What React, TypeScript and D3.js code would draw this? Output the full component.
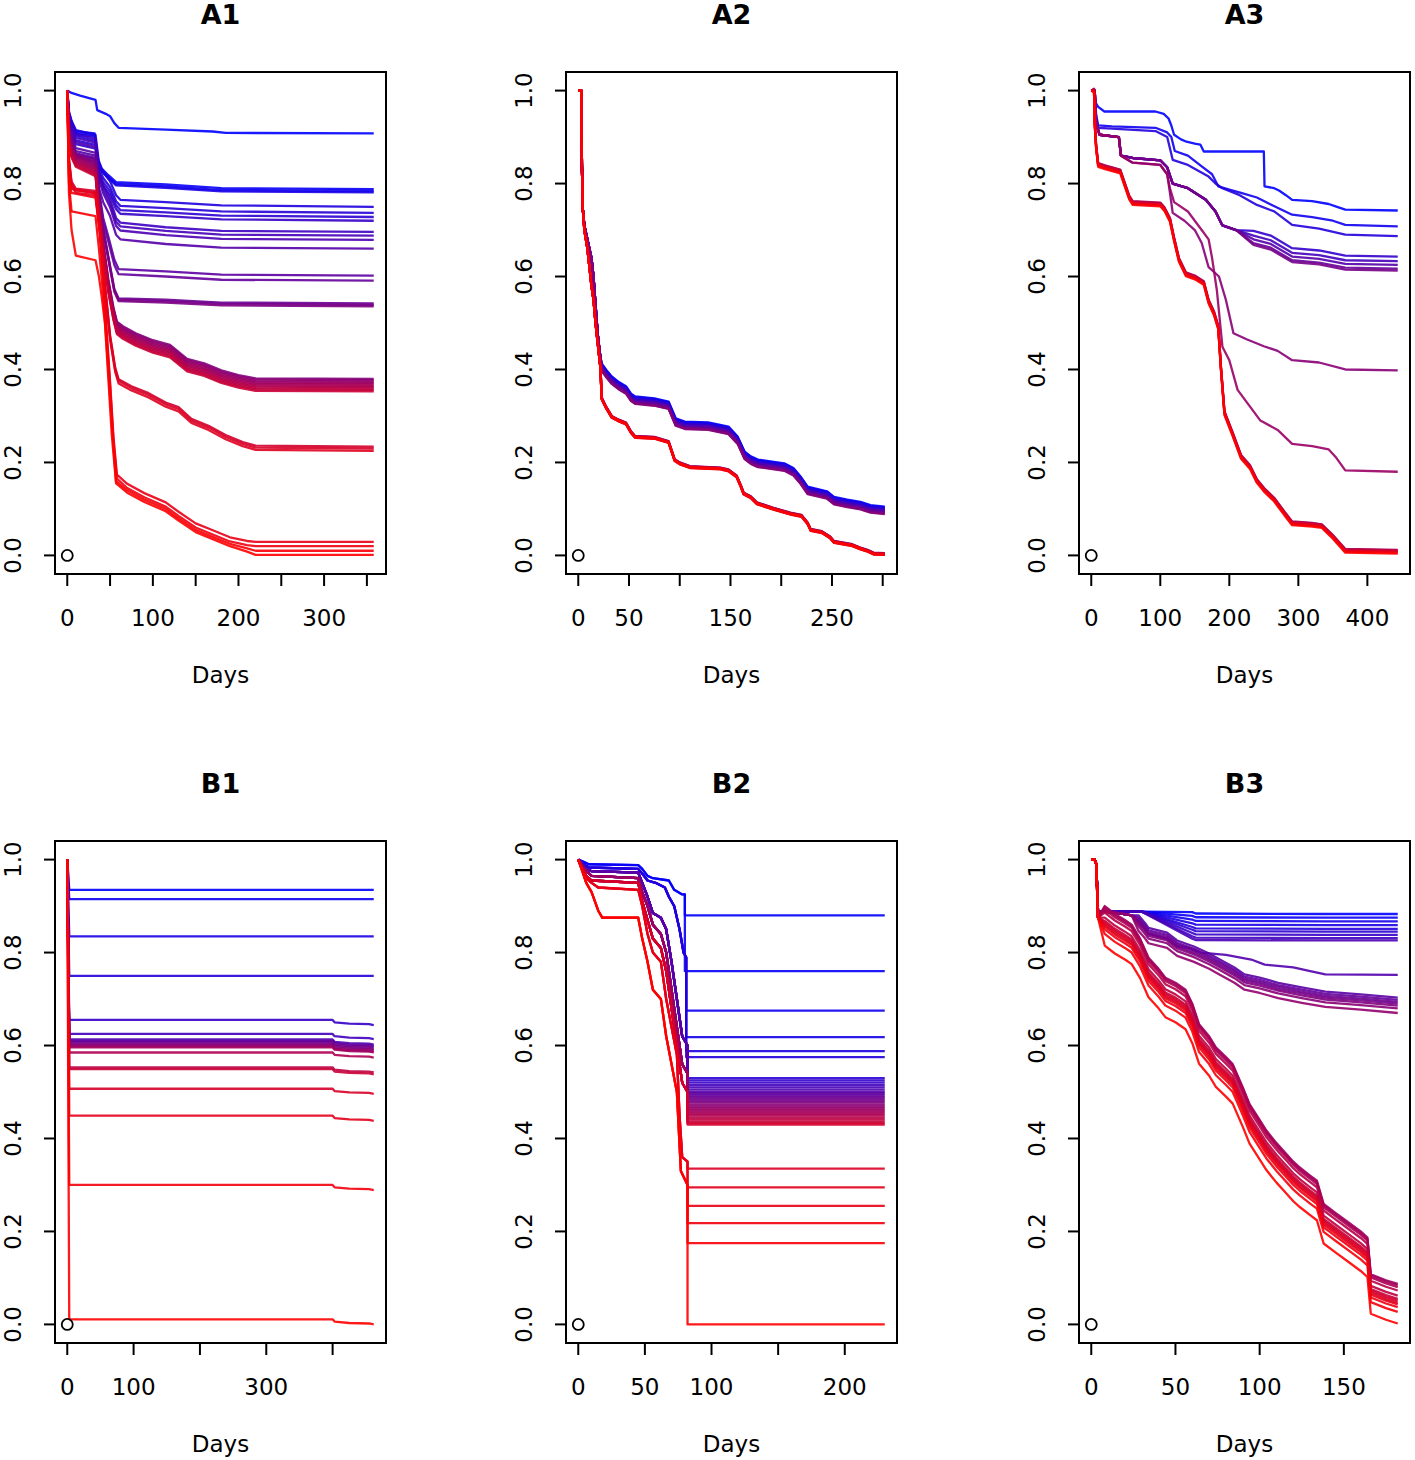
import React from "react";
import * as d3 from "d3";

// ---------- tick definitions ----------
const Y_TICKS = [0, 0.2, 0.4, 0.6, 0.8, 1.0];
const A1_TICKS = [0, 50, 100, 150, 200, 250, 300, 350];
const A1_LABELS = [0, 100, 200, 300];
const A2_TICKS = [0, 50, 100, 150, 200, 250, 300];
const A2_LABELS = [0, 50, 150, 250];
const A3_TICKS = [0, 100, 200, 300, 400];
const A3_LABELS = [0, 100, 200, 300, 400];
const B1_TICKS = [0, 100, 200, 300, 400];
const B1_LABELS = [0, 100, 300];
const B2_TICKS = [0, 50, 100, 150, 200];
const B2_LABELS = [0, 50, 100, 200];
const B3_TICKS = [0, 50, 100, 150];
const B3_LABELS = [0, 50, 100, 150];

// ---------- A1 ----------
const A1_top = [[0,1],[5,0.995],[15,0.989],[33,0.98],[35,0.958],[45,0.95],[50,0.945],[55,0.93],[60,0.92],[115,0.916],[170,0.912],[185,0.909],[358,0.908]];
const A1_top_off = [0];
const A1_g78 = [[0,1],[2,0.95],[5,0.93],[10,0.91],[32,0.905],[36,0.85],[40,0.83],[48,0.815],[57,0.8],[115,0.795],[180,0.787],[358,0.785]];
const A1_g78_off = [0.003, -0.001, -0.004];
const A1_g73 = [[0,1],[2,0.94],[5,0.92],[10,0.9],[33,0.89],[37,0.83],[42,0.81],[50,0.79],[57,0.76],[62,0.75],[115,0.745],[180,0.738],[358,0.735]];
const A1_g73_off = [0.015, 0.002, -0.007, -0.015];
const A1_g68 = [[0,1],[2,0.93],[5,0.91],[10,0.89],[33,0.88],[37,0.81],[42,0.78],[50,0.75],[57,0.71],[62,0.7],[115,0.69],[180,0.682],[358,0.68]];
const A1_g68_off = [0.016, 0.008, -0.001, -0.02];
const A1_g60 = [[0,1],[2,0.92],[5,0.9],[10,0.87],[33,0.86],[37,0.78],[42,0.72],[48,0.68],[55,0.63],[60,0.61],[115,0.605],[180,0.598],[358,0.596]];
const A1_g60_off = [0.006, -0.005];
const A1_g54 = [[0,1],[2,0.92],[5,0.89],[10,0.86],[33,0.85],[37,0.77],[42,0.7],[48,0.64],[55,0.57],[60,0.55],[115,0.547],[180,0.541],[358,0.539]];
const A1_g54_off = [0.003, 0, -0.003];
const A1_g37 = [[0,1],[2,0.9],[5,0.87],[10,0.85],[33,0.83],[37,0.75],[42,0.66],[48,0.58],[54,0.52],[58,0.49],[65,0.48],[80,0.465],[100,0.45],[120,0.44],[140,0.41],[160,0.4],[180,0.385],[200,0.375],[220,0.368],[358,0.367]];
const A1_g37_off = [0.013, 0.01, 0.007, 0.004, 0.001, -0.002, -0.005, -0.008, -0.011, -0.014];
const A1_g23 = [[0,1],[2,0.85],[5,0.8],[10,0.785],[33,0.78],[38,0.7],[44,0.58],[50,0.47],[56,0.4],[60,0.375],[75,0.36],[95,0.345],[115,0.325],[130,0.315],[145,0.29],[165,0.275],[185,0.255],[205,0.24],[220,0.232],[358,0.23]];
const A1_g23_off = [0.004, 0, -0.005];
const A1_r78 = [[0,1],[2,0.82],[5,0.785],[33,0.775],[38,0.7],[42,0.6],[46,0.48],[50,0.37],[54,0.25],[58,0.17],[70,0.15],[90,0.13],[115,0.11],[130,0.09],[150,0.065],[170,0.05],[190,0.035],[210,0.027],[220,0.025],[358,0.025]];
const A1_r78_off = [0.004, -0.005];
const A1_r73 = [[0,1],[2,0.8],[5,0.74],[33,0.73],[37,0.66],[41,0.58],[45,0.48],[49,0.37],[53,0.26],[57,0.16],[70,0.14],[90,0.12],[115,0.1],[130,0.08],[150,0.055],[170,0.04],[190,0.025],[210,0.015],[220,0.01],[358,0.01]];
const A1_r73_off = [0];
const A1_r64 = [[0,1],[2,0.78],[5,0.7],[10,0.645],[33,0.635],[37,0.6],[40,0.56],[44,0.5],[48,0.38],[52,0.26],[57,0.155],[70,0.135],[90,0.115],[115,0.095],[130,0.075],[150,0.05],[170,0.035],[190,0.02],[210,0.008],[220,0.001],[358,0.001]];
const A1_r64_off = [0];

// ---------- A2 ----------
const A2_bundle = [[0,1],[3,1],[3.6,0.84],[4.5,0.745],[6,0.71],[9,0.68],[11,0.66],[13,0.64],[15,0.6],[17,0.54],[19,0.48],[21,0.44],[23,0.405],[28,0.39],[33,0.377],[40,0.365],[47,0.356],[52,0.34],[56,0.334],[75,0.33],[89,0.323],[96,0.287],[105,0.28],[128,0.278],[148,0.269],[157,0.248],[164,0.215],[170,0.205],[177,0.198],[203,0.19],[212,0.18],[219,0.162],[226,0.14],[245,0.13],[252,0.118],[265,0.112],[278,0.107],[288,0.1],[302,0.097]];
const A2_bundle_off = [0.008, 0.0065, 0.005, 0.0035, 0.002, 0.0005, -0.001, -0.0025, -0.004, -0.0055, -0.007, -0.008];
const A2_red = [[0,1],[3,1],[3.6,0.84],[4.5,0.745],[6,0.7],[9,0.66],[11,0.62],[13,0.58],[15,0.55],[17,0.5],[19,0.46],[22,0.4],[23,0.338],[27,0.32],[33,0.298],[40,0.29],[47,0.284],[52,0.265],[56,0.255],[75,0.253],[89,0.244],[95,0.205],[100,0.198],[110,0.19],[140,0.187],[148,0.183],[156,0.17],[160,0.15],[163,0.133],[170,0.125],[176,0.112],[193,0.1],[209,0.09],[220,0.085],[226,0.069],[229,0.055],[240,0.05],[248,0.039],[252,0.029],[270,0.022],[278,0.015],[285,0.01],[291,0.004],[302,0.003]];
const A2_red_off = [0.002, 0.0015, 0.001, 0.0005, 0, -0.0005, -0.001, -0.0015, -0.002, 0];

// ---------- A3 ----------
const A3_b1 = [[0,1],[4,1],[6,0.975],[10,0.965],[19,0.955],[93,0.955],[105,0.95],[112,0.94],[116,0.925],[120,0.905],[130,0.895],[138,0.89],[150,0.886],[158,0.884],[163,0.869],[250,0.869],[251,0.794],[265,0.79],[272,0.785],[282,0.775],[291,0.765],[320,0.762],[344,0.756],[356,0.75],[368,0.744],[444,0.742]];
const A3_b2 = [[0,1],[5,1],[7,0.95],[10,0.925],[30,0.923],[93,0.92],[110,0.91],[116,0.9],[121,0.87],[140,0.86],[160,0.837],[175,0.82],[184,0.794],[200,0.787],[217,0.78],[240,0.77],[260,0.755],[291,0.733],[320,0.728],[350,0.72],[368,0.711],[444,0.708]];
const A3_b3 = [[0,1],[5,1],[7,0.94],[10,0.92],[30,0.918],[93,0.913],[110,0.9],[118,0.851],[140,0.84],[170,0.815],[180,0.8],[190,0.79],[215,0.775],[240,0.754],[265,0.74],[291,0.711],[330,0.703],[368,0.69],[444,0.687]];
const A3_pg = [[0,1],[5,1],[7,0.93],[12,0.905],[40,0.9],[43,0.86],[60,0.855],[100,0.85],[110,0.835],[118,0.8],[140,0.79],[166,0.765],[180,0.74],[190,0.71],[210,0.7],[235,0.685],[260,0.675],[291,0.648],[330,0.643],[368,0.632],[444,0.63]];
const A3_pg_off = [0.013, 0.003, -0.005, -0.013, -0.017];
const A3_p40 = [[0,1],[5,1],[7,0.93],[12,0.905],[40,0.9],[43,0.86],[60,0.845],[100,0.84],[110,0.82],[114,0.78],[118,0.737],[135,0.72],[150,0.7],[160,0.672],[170,0.62],[185,0.6],[195,0.55],[206,0.478],[225,0.465],[250,0.45],[270,0.44],[291,0.42],[330,0.415],[368,0.4],[444,0.398]];
const A3_p18 = [[0,1],[5,1],[7,0.93],[12,0.905],[40,0.9],[43,0.86],[60,0.845],[100,0.84],[110,0.82],[114,0.79],[120,0.76],[140,0.74],[160,0.7],[170,0.68],[175,0.64],[182,0.57],[190,0.449],[200,0.42],[212,0.356],[230,0.32],[245,0.29],[270,0.27],[291,0.24],[320,0.235],[344,0.228],[355,0.21],[368,0.183],[444,0.18]];
const A3_red = [[0,1],[4,1],[5,0.93],[7,0.88],[10,0.84],[20,0.835],[42,0.826],[48,0.8],[55,0.77],[60,0.758],[100,0.755],[106,0.745],[114,0.722],[120,0.68],[127,0.636],[137,0.605],[150,0.598],[163,0.586],[170,0.546],[178,0.52],[184,0.49],[188,0.4],[193,0.306],[205,0.26],[217,0.212],[230,0.19],[240,0.16],[251,0.14],[265,0.12],[280,0.09],[291,0.069],[320,0.066],[334,0.063],[350,0.04],[368,0.01],[444,0.008]];
const A3_red_off = [0.004, 0.003, 0.001, 0, -0.002, -0.004];

// ---------- B1 ----------
const B1_flat = [[0,1],[3,0],[462,0]];
const B1_flat_lvl = [0.935, 0.915, 0.835, 0.75];
const B1_tail = [[0,1],[3,0],[400,0],[403,-0.005],[425,-0.008],[455,-0.009],[462,-0.011]];
const B1_tail_lvl = [0.655, 0.625, 0.613, 0.61, 0.607, 0.604, 0.601, 0.598, 0.596, 0.585, 0.553, 0.549, 0.507, 0.449, 0.3, 0.011];

// ---------- B2 ----------
const B2_b1 = [[0,1],[4,0.995],[8,0.99],[45,0.988],[48,0.98],[52,0.965],[56,0.96],[68,0.955],[72,0.935],[78,0.925],[80,0.925],[80,0],[230,0]];
const B2_b1_lvl = [0.88, 0.76];
const B2_b2 = [[0,1],[4,0.99],[8,0.983],[45,0.98],[48,0.97],[52,0.955],[58,0.95],[65,0.94],[68,0.92],[72,0.9],[76,0.85],[79,0.8],[81,0.79],[81,0],[230,0]];
const B2_b2_lvl = [0.675, 0.618, 0.588, 0.575];
const B2_m1 = [[0,1],[3,0.99],[6,0.98],[10,0.975],[45,0.972],[48,0.95],[52,0.92],[56,0.885],[62,0.875],[66,0.85],[70,0.78],[74,0.7],[78,0.62],[82,0.6],[82,0],[230,0]];
const B2_m1_lvl = [0.53, 0.525, 0.52, 0.515, 0.51, 0.505, 0.5, 0.497];
const B2_m2 = [[0,1],[3,0.985],[6,0.975],[10,0.965],[45,0.96],[48,0.93],[52,0.9],[56,0.86],[62,0.84],[66,0.8],[70,0.72],[74,0.64],[78,0.56],[82,0.54],[82,0],[230,0]];
const B2_m2_lvl = [0.493, 0.489, 0.485, 0.481, 0.477, 0.473, 0.469, 0.465, 0.461];
const B2_m3 = [[0,1],[3,0.98],[6,0.965],[10,0.955],[45,0.95],[48,0.91],[52,0.87],[56,0.83],[62,0.81],[66,0.76],[70,0.68],[74,0.6],[78,0.52],[82,0.5],[82,0],[230,0]];
const B2_m3_lvl = [0.457, 0.453, 0.449, 0.445, 0.441, 0.437, 0.433, 0.43];
const B2_r1 = [[0,1],[3,0.98],[6,0.96],[10,0.95],[15,0.94],[45,0.935],[48,0.9],[52,0.84],[56,0.8],[62,0.78],[66,0.7],[70,0.64],[74,0.58],[76,0.45],[78,0.36],[82,0.35],[82,0],[230,0]];
const B2_r1_lvl = [0.335, 0.295, 0.255];
const B2_r2 = [[0,1],[3,0.975],[6,0.95],[10,0.93],[15,0.89],[18,0.875],[45,0.875],[48,0.83],[52,0.78],[56,0.72],[62,0.7],[66,0.62],[70,0.56],[74,0.5],[77,0.33],[82,0.3],[82,0],[230,0]];
const B2_r2_lvl = [0.218, 0.175, 0.0];

// ---------- B3 ----------
const B3_top = [[0,1],[2,1],[3,0.99],[4,0.889],[30,0.888],[60,0.887],[62,0.884],[139,0.883],[182,0.883]];
const B3_top_off = [0, -0.008, -0.016, -0.024, -0.032, -0.038, -0.045, -0.052, -0.057];
const B3_mid75 = [[0,1],[2,1],[3,0.99],[4,0.889],[16,0.885],[24,0.88],[28,0.867],[32,0.85],[34,0.84],[45,0.83],[51,0.813],[58,0.81],[65,0.8],[80,0.795],[95,0.785],[103,0.774],[120,0.768],[130,0.76],[139,0.753],[182,0.752]];
const B3_mid = [[0,1],[2,1],[3,0.99],[4,0.889],[16,0.885],[24,0.88],[28,0.867],[32,0.85],[34,0.84],[45,0.83],[51,0.813],[61,0.8],[70,0.785],[75,0.775],[85,0.755],[91,0.74],[100,0.733],[111,0.722],[125,0.712],[139,0.703],[160,0.697],[182,0.69]];
const B3_mid_off = [0.013, 0.008, 0.004, 0, -0.004, -0.01, -0.02];
const B3_low = [[0,1],[2,1],[3,0.99],[4,0.875],[8,0.86],[14,0.843],[20,0.83],[24,0.82],[29,0.79],[34,0.749],[40,0.725],[44,0.706],[50,0.695],[56,0.68],[60,0.65],[64,0.606],[70,0.58],[74,0.556],[80,0.535],[84,0.52],[90,0.47],[94,0.434],[100,0.4],[104,0.377],[110,0.35],[114,0.334],[120,0.31],[124,0.297],[130,0.28],[134,0.269],[138,0.219],[145,0.2],[154,0.176],[160,0.16],[164,0.147],[166,0.068],[175,0.055],[182,0.047]];
const B3_low_off = [0.04, 0.037, 0.033, 0.026, 0.015, 0.008, 0.004, 0, -0.004, -0.01, -0.02, -0.045];

// bundles: [knots, offsets (or end levels), first knot index the offset applies to]
const PANELS = [
  { title: "A1", col: 0, row: 0, maxDay: 358, ticks: A1_TICKS, labels: A1_LABELS,
    bundles: [[A1_top, A1_top_off, 1], [A1_g78, A1_g78_off, 1], [A1_g73, A1_g73_off, 1], [A1_g68, A1_g68_off, 1],
      [A1_g60, A1_g60_off, 1], [A1_g54, A1_g54_off, 1], [A1_g37, A1_g37_off, 1], [A1_g23, A1_g23_off, 1],
      [A1_r78, A1_r78_off, 1], [A1_r73, A1_r73_off, 1], [A1_r64, A1_r64_off, 1]] },
  { title: "A2", col: 1, row: 0, maxDay: 302, ticks: A2_TICKS, labels: A2_LABELS,
    bundles: [[A2_bundle, A2_bundle_off, 12], [A2_red, A2_red_off, 12]] },
  { title: "A3", col: 2, row: 0, maxDay: 444, ticks: A3_TICKS, labels: A3_LABELS,
    bundles: [[A3_b1, [0], 1], [A3_b2, [0], 1], [A3_b3, [0], 1], [A3_pg, A3_pg_off, 15], [A3_p40, [0], 1],
      [A3_p18, [0], 1], [A3_red, A3_red_off, 1]] },
  { title: "B1", col: 0, row: 1, maxDay: 462, ticks: B1_TICKS, labels: B1_LABELS,
    bundles: [[B1_flat, B1_flat_lvl, 1], [B1_tail, B1_tail_lvl, 1]] },
  { title: "B2", col: 1, row: 1, maxDay: 230, ticks: B2_TICKS, labels: B2_LABELS,
    bundles: [[B2_b1, B2_b1_lvl, 11], [B2_b2, B2_b2_lvl, 13], [B2_m1, B2_m1_lvl, 14], [B2_m2, B2_m2_lvl, 14],
      [B2_m3, B2_m3_lvl, 14], [B2_r1, B2_r1_lvl, 16], [B2_r2, B2_r2_lvl, 16]] },
  { title: "B3", col: 2, row: 1, maxDay: 182, ticks: B3_TICKS, labels: B3_LABELS,
    bundles: [[B3_top, B3_top_off, 5], [B3_mid75, [0], 1], [B3_mid, B3_mid_off, 6], [B3_low, B3_low_off, 4]] },
];

const COL_LEFT = [55, 566, 1079];
const ROW_TOP = [72, 841];
const PW = 331;
const PH = 502;
const FONT = "DejaVu Sans, Liberation Sans, sans-serif";

function Panel({ p }: { p: any }) {
  const left = COL_LEFT[p.col];
  const top = ROW_TOP[p.row];
  const bottom = top + PH;
  const x = d3.scaleLinear().domain([-0.04 * p.maxDay, 1.04 * p.maxDay]).range([left, left + PW]);
  const y = d3.scaleLinear().domain([-0.04, 1.04]).range([bottom, top]);
  const line = d3.line<number[]>().x((d) => x(d[0])).y((d) => y(d[1])).curve(d3.curveLinear);

  const curves: number[][][] = [];
  p.bundles.forEach(([knots, offs, split]: [number[][], number[], number]) => {
    offs.forEach((o: number) => {
      curves.push(knots.map((k, i) => [k[0], i >= split ? Math.max(0, k[1] + o) : k[1]]));
    });
  });
  const n = curves.length;
  const color = d3.interpolateRgb("blue", "red");

  return (
    <g>
      <text x={left + PW / 2} y={top - 48} textAnchor="middle" fontFamily={FONT} fontWeight="bold" fontSize={27}>
        {p.title}
      </text>
      {curves.map((c, i) => (
        <path key={i} d={line(c) || ""} fill="none" stroke={color(n > 1 ? i / (n - 1) : 0)} strokeWidth={2.3}
          strokeOpacity={0.9} strokeLinejoin="round" />
      ))}
      <circle cx={x(0)} cy={y(0)} r={5.5} fill="none" stroke="black" strokeWidth={1.8} />
      <rect x={left} y={top} width={PW} height={PH} fill="none" stroke="black" strokeWidth={2} />
      {Y_TICKS.map((t) => (
        <g key={"y" + t}>
          <line x1={left} x2={left - 11} y1={y(t)} y2={y(t)} stroke="black" strokeWidth={2} />
          <text transform={`translate(${left - 34},${y(t)}) rotate(-90)`} textAnchor="middle" fontFamily={FONT} fontSize={23}>
            {t.toFixed(1)}
          </text>
        </g>
      ))}
      {p.ticks.map((t: number) => (
        <line key={"xt" + t} x1={x(t)} x2={x(t)} y1={bottom} y2={bottom + 12} stroke="black" strokeWidth={2} />
      ))}
      {p.labels.map((t: number) => (
        <text key={"xl" + t} x={x(t)} y={bottom + 52} textAnchor="middle" fontFamily={FONT} fontSize={23}>
          {t}
        </text>
      ))}
      <text x={left + PW / 2} y={bottom + 109} textAnchor="middle" fontFamily={FONT} fontSize={23}>
        Days
      </text>
    </g>
  );
}

export default function App() {
  return (
    <svg width={1415} height={1460} style={{ position: "absolute", left: 0, top: 0, background: "white" }}>
      <rect x={0} y={0} width={1415} height={1460} fill="white" />
      {PANELS.map((p) => (
        <Panel key={p.title} p={p} />
      ))}
    </svg>
  );
}
